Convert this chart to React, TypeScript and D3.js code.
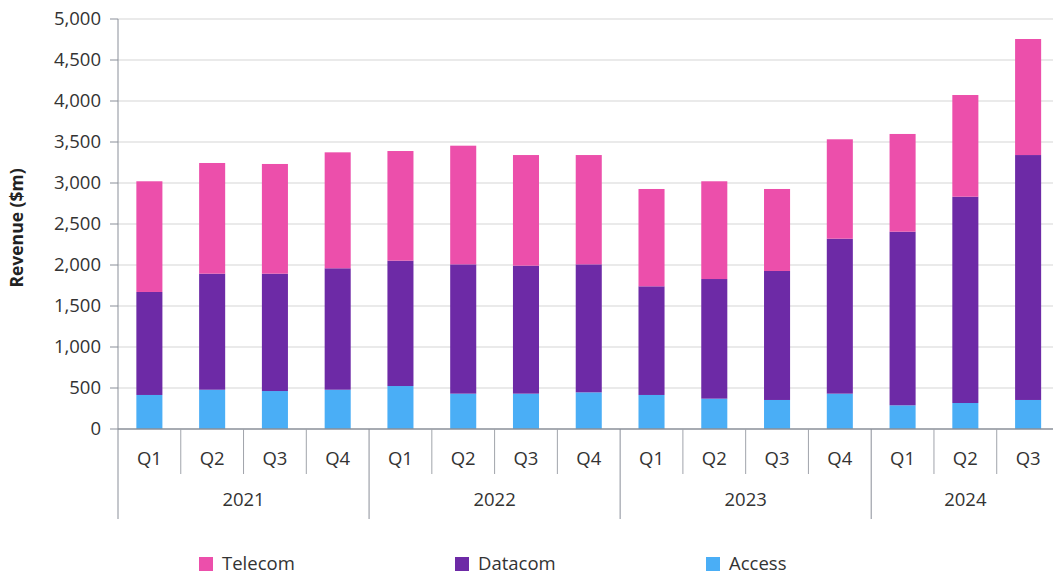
import React from 'react';
import * as d3 from 'd3';

// quarters and years along the x axis
const years = ['2021', '2022', '2023', '2024'];
const quarters = ['Q1', 'Q2', 'Q3', 'Q4', 'Q1', 'Q2', 'Q3', 'Q4', 'Q1', 'Q2', 'Q3', 'Q4', 'Q1', 'Q2', 'Q3'];
const yearOf = ['2021', '2021', '2021', '2021', '2022', '2022', '2022', '2022', '2023', '2023', '2023', '2023', '2024', '2024', '2024'];

// revenue ($m) per segment
const access = [415, 479, 463, 479, 524, 431, 431, 447, 415, 370, 354, 431, 289, 317, 354];
const datacom = [1256, 1415, 1431, 1481, 1529, 1577, 1561, 1561, 1325, 1459, 1573, 1890, 2117, 2516, 2987];
const telecom = [1350, 1350, 1338, 1414, 1337, 1447, 1349, 1333, 1187, 1192, 1000, 1212, 1192, 1240, 1415];

const yTicks = [0, 500, 1000, 1500, 2000, 2500, 3000, 3500, 4000, 4500, 5000];

const seriesKeys = ['access', 'datacom', 'telecom'];
const colors: Record<string, string> = { telecom: '#EC4FAB', datacom: '#6D2AA6', access: '#4AAEF6' };
const legendItems = [
  { key: 'telecom', label: 'Telecom', x: 199 },
  { key: 'datacom', label: 'Datacom', x: 455 },
  { key: 'access', label: 'Access', x: 706 },
];

const W = 1053, H = 574;
const left = 118, right = 1059.5, top = 19, bottom = 429;
const font = '"Open Sans", "Noto Sans", sans-serif';
const fs = 18.5;

export default function App() {
  const rows = quarters.map((q, i) => ({ id: String(i), access: access[i], datacom: datacom[i], telecom: telecom[i] }));
  const stacked = d3.stack<any>().keys(seriesKeys)(rows);

  const x = d3.scaleBand<string>()
    .domain(rows.map(r => r.id))
    .range([left, right])
    .paddingInner(0.585)
    .paddingOuter(0.2925);
  const step = x.step();
  const y = d3.scaleLinear().domain([0, 5000]).range([bottom, top]);
  const fmt = d3.format(',');

  // year separators: at the start of each year group
  const yearStart = years.map(yr => yearOf.indexOf(yr));

  return (
    <svg width={W} height={H} style={{ position: 'absolute', left: 0, top: 0, background: '#fff' }} fontFamily={font}>
      {/* gridlines */}
      {yTicks.filter(t => t > 0).map(t => (
        <line key={t} x1={left} x2={W} y1={y(t)} y2={y(t)} stroke="#e3e3e3" strokeWidth={1.5} />
      ))}
      {/* y ticks and labels */}
      {yTicks.map(t => (
        <g key={'t' + t}>
          <line x1={left - 8} x2={left} y1={y(t)} y2={y(t)} stroke="#8a8f99" />
          <text x={101} y={y(t)} dy="0.35em" textAnchor="end" fontSize={fs} fill="#333">{fmt(t)}</text>
        </g>
      ))}
      <text transform={`translate(23,${(top + bottom) / 2 + 4}) rotate(-90)`} textAnchor="middle" fontSize={17.5} fontWeight="bold" fill="#222">Revenue ($m)</text>

      {/* bars */}
      {stacked.map(s => (
        <g key={s.key} fill={colors[s.key]}>
          {s.map((d, i) => (
            <rect key={i} x={x(rows[i].id)} width={x.bandwidth()} y={y(d[1])} height={y(d[0]) - y(d[1])} />
          ))}
        </g>
      ))}

      {/* axes */}
      <line x1={left} x2={left} y1={top} y2={bottom} stroke="#8a8f99" />
      <line x1={left} x2={W} y1={bottom} y2={bottom} stroke="#8a8f99" strokeWidth={1.5} />
      {quarters.map((q, i) => (
        <g key={'q' + i}>
          {i > 0 && !yearStart.includes(i) && (
            <line x1={left + step * i} x2={left + step * i} y1={bottom} y2={474} stroke="#a0a4ab" />
          )}
          <text x={(x(rows[i].id) as number) + x.bandwidth() / 2} y={459} dy="0.35em" textAnchor="middle" fontSize={fs} fill="#333">{q}</text>
        </g>
      ))}
      {years.map((yr, k) => {
        const s = yearStart[k];
        const n = yearOf.filter(v => v === yr).length;
        const cx = left + step * (s + 4 / 2);
        return (
          <g key={yr}>
            <line x1={left + step * s} x2={left + step * s} y1={bottom} y2={519} stroke="#8a8f99" />
            <text x={n === 4 ? cx : left + step * (s + 1.5)} y={500} dy="0.35em" textAnchor="middle" fontSize={fs} fill="#333">{yr}</text>
          </g>
        );
      })}

      {/* legend */}
      {legendItems.map(l => (
        <g key={l.key}>
          <rect x={l.x} y={557} width={14} height={14} fill={colors[l.key]} />
          <text x={l.x + 23} y={564} dy="0.35em" fontSize={fs} fill="#333">{l.label}</text>
        </g>
      ))}
    </svg>
  );
}
